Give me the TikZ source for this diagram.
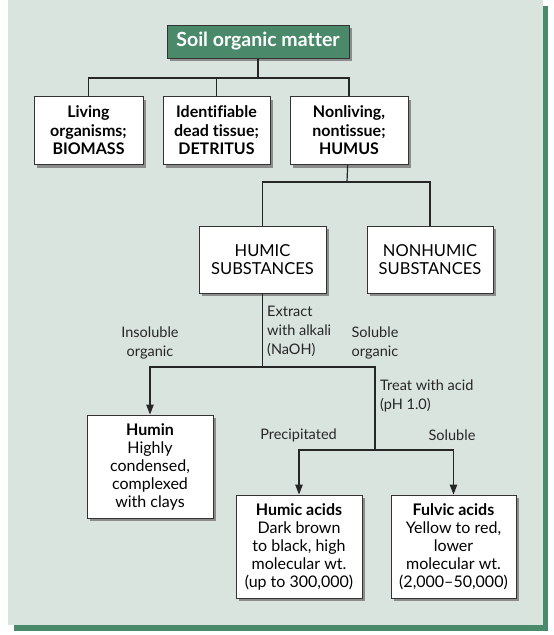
\documentclass[tikz,border=0pt]{standalone}
\usepackage{fontspec}
\setmainfont{Lato}[Ligatures=NoCommon]
\usepackage{xcolor}
\definecolor{soilgreen}{HTML}{4A8A6B}
\definecolor{soilpanel}{HTML}{DAE4DF}
\usetikzlibrary{positioning, arrows.meta, shadows}

\begin{document}
\begin{tikzpicture}[
  x=1pt, y=-1pt,
  box/.style={draw=black!80, line width=1pt, fill=white, align=center, inner sep=0pt,
              minimum height=68pt, font=\fontsize{16}{18.5}\selectfont\bfseries,
              drop shadow={shadow xshift=3pt, shadow yshift=-3pt, fill=black!45, opacity=1}},
  descbox/.style={box, minimum height=103pt, font=\fontsize{16}{18}\selectfont},
  titlebox/.style={box, fill=soilgreen, text=white, minimum height=33pt,
                   font=\fontsize{19.5}{21}\selectfont\bfseries},
  link/.style={draw=black!85, line width=1.2pt},
  flow/.style={link, -{Triangle[length=10pt, width=7.5pt]}},
  lbl/.style={font=\fontsize{14.5}{19}\selectfont, text=black!85, align=center, inner sep=1pt}
]
  % panel with its green shadow
  \useasboundingbox (0,0) rectangle (554,635);
  \fill[soilgreen] (14,6) rectangle (548,631);
  \fill[soilpanel] (8,0) rectangle (543,625);

  \node[titlebox, minimum width=182pt] (som) at (258,41.5) {Soil organic matter};

  \node[box, minimum width=109pt] (bio) at (88.5,130.5) {Living\\organisms;\\BIOMASS};
  \node[box, minimum width=107pt, right=19pt of bio] (det) {Identifiable\\dead tissue;\\DETRITUS};
  \node[box, minimum width=118pt, right=19pt of det] (hum) {Nonliving,\\nontissue;\\HUMUS};

  \node[box, minimum width=127pt, minimum height=67pt, font=\fontsize{16.5}{18.5}\selectfont]
       (humsub) at (262.5,259.5) {HUMIC\\SUBSTANCES};
  \node[box, minimum width=126pt, minimum height=67pt, font=\fontsize{16.5}{18.5}\selectfont,
        right=40pt of humsub] (nonhum) {NONHUMIC\\SUBSTANCES};

  \node[descbox, minimum width=126pt] (humin) at (150,466.5)
       {\textbf{Humin}\\Highly\\condensed,\\complexed\\with clays};
  \node[descbox, minimum width=126pt] (hacid) at (299,546.5)
       {\textbf{Humic acids}\\Dark brown\\to black, high\\molecular wt.\\(up to 300,000)};
  \node[descbox, minimum width=125pt, right=28pt of hacid] (facid)
       {\textbf{Fulvic acids}\\Yellow to red,\\lower\\molecular wt.\\(2,000--50,000)};

  % junctions of the tree
  \coordinate (j1) at (258,78);
  \coordinate (j2) at (347,182);
  \coordinate (j3) at (262.5,367);
  \coordinate (j4) at (375,450);

  \draw[link] (som) -- (j1);
  \draw[link] (bio.north) |- (j1) -| (hum.north);
  \draw[link] (det.north) -- (det.north |- j1);

  \draw[link] (hum) -- (j2);
  \draw[link] (humsub.north) |- (j2) -| (nonhum.north);

  \draw[link] (humsub) -- (j3);
  \draw[flow] (j3) -| (humin.north);
  \draw[link] (j3) -| (j4);
  \draw[flow] (j4) -| (hacid.north);
  \draw[flow] (j4) -| (facid.north);

  \node[lbl, anchor=west, align=left] (extract) at (266,331) {Extract\\with alkali\\(NaOH)};
  \node[lbl] (insol) at (150,342.5) {Insoluble\\organic};
  \node[lbl] (sol) at (375,342.5) {Soluble\\organic};
  \node[lbl, anchor=west, align=left] (treat) at (379,396) {Treat with acid\\(pH 1.0)};
  \node[lbl] (precip) at (298.5,435) {Precipitated};
  \node[lbl] (solub) at (452,435) {Soluble};
\end{tikzpicture}
\end{document}
